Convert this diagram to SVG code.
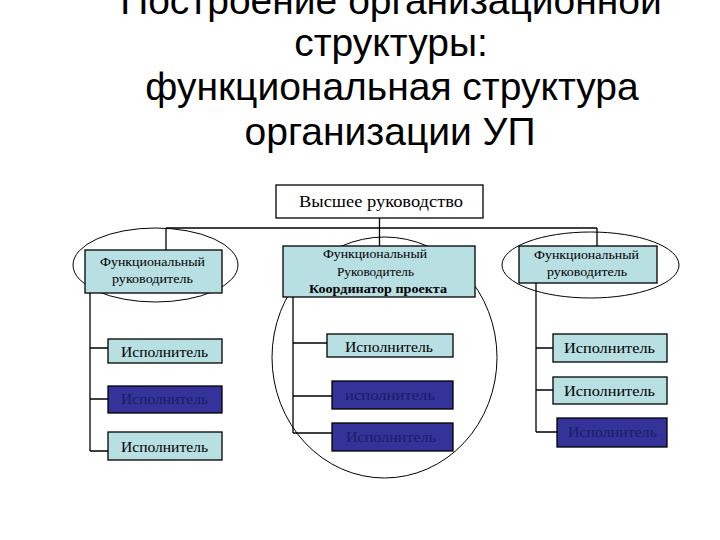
<svg xmlns="http://www.w3.org/2000/svg" width="720" height="540" viewBox="0 0 720 540">
<style>
.title{font-family:"Liberation Sans",Arial,sans-serif;font-size:39px;fill:#000;text-anchor:middle}
.t{font-family:"Liberation Serif","Times New Roman",serif;text-anchor:middle;fill:#000}
.s13{font-size:13px}
.s14{font-size:14px}
.s16{font-size:16px}
.b{font-weight:bold}
.dt{fill:#1c1c66}
.light{fill:#b8dfe2;stroke:#000;stroke-width:1.3}
.dark{fill:#333399;stroke:#000;stroke-width:1.3}
.white{fill:#fff;stroke:#000;stroke-width:1.3}
.ell{fill:none;stroke:#000;stroke-width:1}
.ln{fill:none;stroke:#000;stroke-width:1.3}
</style>
<rect width="720" height="540" fill="#fff"/>
<g id="title">
<text class="title" x="391" y="14">Построение организационной</text>
<text class="title" x="391" y="56">структуры:</text>
<text class="title" x="392" y="100">функциональная структура</text>
<text class="title" x="390" y="145">организации УП</text>
</g>
<g id="ellipses">
<ellipse class="ell" cx="155.5" cy="265" rx="82.5" ry="37"/>
<ellipse class="ell" cx="384.5" cy="357.5" rx="112.5" ry="120.5"/>
<ellipse class="ell" cx="590.5" cy="265" rx="88.5" ry="33"/>
</g>
<g id="connectors">
<path class="ln" d="M379.5 218 V246 M166 228 H597 M166 228 V250 M597 228 V246"/>
<path class="ln" d="M90 293 V451 M90 348 H108 M90 399 H108 M90 451 H108"/>
<path class="ln" d="M293 297 V433 M293 343 H327 M293 396 H332 M293 433 H332"/>
<path class="ln" d="M536 283 V432 M536 348 H553 M536 390 H553 M536 432 H557"/>
</g>
<g id="top">
<rect class="white" x="276" y="185" width="207" height="33"/>
<text class="t s16" x="381" y="207" textLength="164" lengthAdjust="spacingAndGlyphs">Высшее руководство</text>
</g>
<g id="fr-left">
<rect class="light" x="85" y="250" width="137" height="43"/>
<text class="t s13" x="152.5" y="266" textLength="105" lengthAdjust="spacingAndGlyphs">Функциональный</text>
<text class="t s13" x="152.5" y="283" textLength="81" lengthAdjust="spacingAndGlyphs">руководитель</text>
</g>
<g id="fr-mid">
<rect class="light" x="283" y="246" width="192" height="51"/>
<text class="t s13" x="375" y="258" textLength="104" lengthAdjust="spacingAndGlyphs">Функциональный</text>
<text class="t s13" x="375.5" y="276" textLength="77" lengthAdjust="spacingAndGlyphs">Руководитель</text>
<text class="t s13 b" x="378" y="293" textLength="138" lengthAdjust="spacingAndGlyphs">Координатор проекта</text>
</g>
<g id="fr-right">
<rect class="light" x="519" y="246" width="138" height="37"/>
<text class="t s13" x="586.5" y="259" textLength="105" lengthAdjust="spacingAndGlyphs">Функциональный</text>
<text class="t s13" x="587" y="276" textLength="80" lengthAdjust="spacingAndGlyphs">руководитель</text>
</g>
<g id="ex-l1">
<rect class="light" x="108" y="339" width="114" height="24"/>
<text class="t s14" x="164.5" y="357" textLength="87" lengthAdjust="spacingAndGlyphs">Исполнитель</text>
</g>
<g id="ex-l2">
<rect class="dark" x="108" y="386" width="114" height="27"/>
<text class="t s14 dt" x="164.5" y="404" textLength="87" lengthAdjust="spacingAndGlyphs">Исполнитель</text>
</g>
<g id="ex-l3">
<rect class="light" x="108" y="432" width="114" height="28"/>
<text class="t s14" x="164.5" y="452" textLength="87" lengthAdjust="spacingAndGlyphs">Исполнитель</text>
</g>
<g id="ex-m1">
<rect class="light" x="327" y="334" width="126" height="23"/>
<text class="t s14" x="389" y="352" textLength="88" lengthAdjust="spacingAndGlyphs">Исполнитель</text>
</g>
<g id="ex-m2">
<rect class="dark" x="332" y="381" width="121" height="28"/>
<text class="t s14 dt" x="390" y="400" textLength="90" lengthAdjust="spacingAndGlyphs">исполнитель</text>
</g>
<g id="ex-m3">
<rect class="dark" x="332" y="423" width="121" height="28"/>
<text class="t s14 dt" x="391" y="442" textLength="90" lengthAdjust="spacingAndGlyphs">Исполнитель</text>
</g>
<g id="ex-r1">
<rect class="light" x="553" y="334" width="114" height="28"/>
<text class="t s14" x="609.5" y="353" textLength="91" lengthAdjust="spacingAndGlyphs">Исполнитель</text>
</g>
<g id="ex-r2">
<rect class="light" x="553" y="377" width="114" height="27"/>
<text class="t s14" x="609.5" y="396" textLength="91" lengthAdjust="spacingAndGlyphs">Исполнитель</text>
</g>
<g id="ex-r3">
<rect class="dark" x="557" y="418" width="110" height="29"/>
<text class="t s14 dt" x="612.5" y="437" textLength="89" lengthAdjust="spacingAndGlyphs">Исполнитель</text>
</g>
</svg>
